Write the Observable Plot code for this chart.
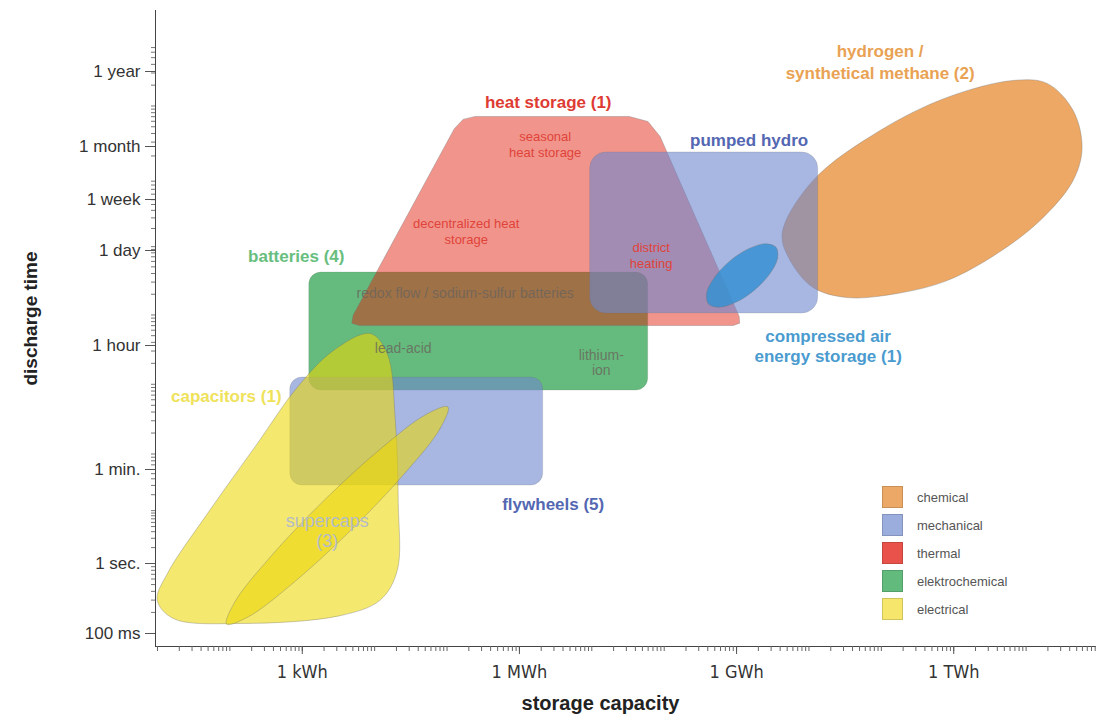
<!DOCTYPE html>
<html><head><meta charset="utf-8">
<script src="https://cdn.jsdelivr.net/npm/d3@7"></script>
<script src="https://cdn.jsdelivr.net/npm/@observablehq/plot@0.6"></script>
<style>
body{margin:0;background:#fff;font-family:"Liberation Sans",Arial,sans-serif;}
#wrap{position:relative;width:1109px;height:716px;}
#legend{position:absolute;left:882px;top:483px;}
.row{display:flex;align-items:center;height:28px;}
.sw{width:21px;height:22px;box-sizing:border-box;border:1px solid rgba(0,0,0,0.15);margin-right:14px;}
.lab{font-size:13px;color:#555;}
</style></head><body><div id="wrap"><div id="legend"></div></div>
<script>
// ---- axis ticks ----
const xTickValues = [1, 1e3, 1e6, 1e9];
const xTickLabels = ["1 kWh", "1 MWh", "1 GWh", "1 TWh"];
const yTickValues = [0.1, 1, 60, 3600, 86400, 604800, 2592000, 31536000];
const yTickLabels = ["100 ms", "1 sec.", "1 min.", "1 hour", "1 day", "1 week", "1 month", "1 year"];

// ---- legend categories ----
const categories = ["chemical", "mechanical", "thermal", "elektrochemical", "electrical"];

// ---- rectangular technology ranges (kWh, seconds) ----
const rectTechs = ["batteries", "flywheels", "pumped hydro"];
const rectCategory = ["elektrochemical", "mechanical", "mechanical"];
const rectCapMin = [1.25, 0.683, 9500];
const rectCapMax = [60100, 2130, 1.34e7];
const rectTimeMin = [815, 29.9, 10500];
const rectTimeMax = [41300, 1250, 2.2e6];

// ---- outlines [kWh, seconds] ----
const heatStorageOutline = [[245,7.05e6],[32860,7.05e6],[59560,5.97e6],[87770,3.61e6],[1.086e6,9536],[1.104e6,7590],[8.97e5,7023],[6.13,7023],[4.83,7590],[5.05,9945],[126,4.69e6],[166,6.37e6]];
const hydrogenOutline = [[4.26e6,1.65e5],[5.5e6,61800],[1.14e7,25100],[3.37e7,17900],[1.65e8,20500],[8.11e8,31600],[3.97e9,78000],[1.56e10,2.71e5],[4.46e10,1.02e6],[5.93e10,2.52e6],[4.46e10,8.61e6],[1.95e10,2.12e7],[6.61e9,2.34e7],[8.11e8,1.33e7],[9.62e7,4.42e6],[1.14e7,1.02e6]];
const compressedAirOutline = [[3.51e6,97500],[3.68e6,66200],[2.86e6,39200],[1.76e6,22950],[9.75e5,15260],[5.71e5,12950],[4.07e5,14550],[3.87e5,21100],[5.0e5,35680],[8.11e5,60950],[1.47e6,92500],[2.5e6,111400]];
const capacitorsOutline = [[8.7,5370],[14.9,2760],[19.3,303],[21.2,13.6],[20.5,0.79],[11.9,0.3],[3.35,0.18],[0.139,0.139],[0.0165,0.164],[0.0099,0.3],[0.0137,0.72],[0.049,8.8],[0.24,142],[0.85,900],[2.7,3050]];
const supercapsOutline = [[103,474],[80,231],[25.9,50.4],[4.75,4.34],[0.77,0.54],[0.181,0.174],[0.090,0.136],[0.116,0.278],[0.357,1.3],[1.95,15.1],[12,118],[51.3,370]];

// ---- annotations ----
const labelTexts = ["heat storage (1)", "seasonal\nheat storage", "decentralized heat\nstorage", "district\nheating", "pumped hydro", "hydrogen /\nsynthetical methane (2)", "batteries (4)", "redox flow / sodium-sulfur batteries", "lead-acid", "lithium-\nion", "capacitors (1)", "flywheels (5)", "supercaps\n(3)", "compressed air\nenergy storage (1)"];
const labelCapacity = [2500, 2270, 184, 66100, 1.49e6, 9.62e7, 0.826, 178, 24.8, 13500, 0.0892, 2930, 2.21, 1.84e7];
const labelTime = [1.2e7, 2.86e6, 1.85e5, 75500, 3.39e6, 4.55e7, 75500, 20500, 3260, 2050, 713, 14.3, 4.21, 3600];
const labelKind = ["thermalT", "thermalN", "thermalN", "thermalN", "mechT", "chemT", "elecchemT", "note", "note", "note", "elecT", "mechT", "superN", "caesT"];

// ---- styles ----
const legendColors = {chemical: "#EBA866", mechanical: "#9AADDC", thermal: "#E8524B", elektrochemical: "#63BA7D", electrical: "#F6E66C"};
const kindStyle = {
  thermalT: {fill: "#DE3B33", fontSize: 17, fontWeight: "bold", lineHeight: 1.3},
  thermalN: {fill: "#E0433A", fontSize: 13, fontWeight: "normal", lineHeight: 1.25},
  mechT: {fill: "#5467B2", fontSize: 17, fontWeight: "bold", lineHeight: 1.3},
  chemT: {fill: "#E9A253", fontSize: 17, fontWeight: "bold", lineHeight: 1.3},
  elecchemT: {fill: "#67BE7E", fontSize: 17, fontWeight: "bold", lineHeight: 1.3},
  note: {fill: "#6a645c", fontSize: 14, fontWeight: "normal", lineHeight: 1.1, fillOpacity: 0.8},
  elecT: {fill: "#EFE25A", fontSize: 17, fontWeight: "bold", lineHeight: 1.3},
  superN: {fill: "#B3BBC8", fontSize: 18, fontWeight: "normal", lineHeight: 1.15},
  caesT: {fill: "#4A9BCF", fontSize: 17, fontWeight: "bold", lineHeight: 1.15}
};

const rects = rectTechs.map((t, i) => ({tech: t, cat: rectCategory[i], x1: rectCapMin[i], x2: rectCapMax[i], y1: rectTimeMin[i], y2: rectTimeMax[i]}));
const labels = labelTexts.map((t, i) => ({text: t, x: labelCapacity[i], y: labelTime[i], kind: labelKind[i]}));

const xMinor = [];
for (let d = -2; d <= 10; d++) for (let k = 1; k <= 9; k++) { const v = k * 10 ** d; if (v <= 1.01e11) xMinor.push(v); }
const yMinor = [];
for (let d = -1; d <= 7; d++) for (let k = 1; k <= 9; k++) { const v = k * 10 ** d; if (v < 8e7) yMinor.push(v); }

const FONT = "Liberation Sans, Arial, sans-serif";
const outlineStroke = {stroke: "#6f6f6f", strokeOpacity: 0.35, strokeWidth: 1};
const shape = (pts, fill, fillOpacity, curve = "catmull-rom-closed") => Plot.line(pts, {x: d => d[0], y: d => d[1], curve, fill, fillOpacity, ...outlineStroke});
const rect = (tech, fill, fillOpacity, rx) => Plot.rect(rects.filter(d => d.tech === tech), {x1: "x1", x2: "x2", y1: "y1", y2: "y2", fill, fillOpacity, rx, ...outlineStroke, strokeOpacity: 0.2});

const textMarks = Object.keys(kindStyle).map(k => Plot.text(labels.filter(d => d.kind === k), {x: "x", y: "y", text: "text", fontFamily: FONT, ...kindStyle[k]}));

const chart = Plot.plot({
  width: 1109, height: 716,
  marginLeft: 155, marginRight: 14, marginTop: 10, marginBottom: 70,
  style: {fontFamily: FONT, background: "white", overflow: "visible"},
  x: {type: "log", domain: [0.01, 1e11], range: [157, 1098]},
  y: {type: "log", domain: yTickValues, range: [633, 563, 469, 345, 250, 199, 146, 71]},
  marks: [
    rect("batteries", "rgb(101,187,125)", 1, 12),
    shape(hydrogenOutline, "rgb(236,168,100)", 1),
    shape(heatStorageOutline, "rgb(225,30,11)", 0.47, "linear-closed"),
    rect("pumped hydro", "rgb(110,135,205)", 0.6, 16),
    rect("flywheels", "rgb(110,135,205)", 0.6, 12),
    shape(compressedAirOutline, "rgb(55,145,210)", 0.85),
    shape(capacitorsOutline, "rgb(236,215,5)", 0.58),
    shape(supercapsOutline, "rgb(236,215,5)", 0.58),
    ...textMarks,
    Plot.frame({anchor: "left", stroke: "#444"}),
    Plot.frame({anchor: "bottom", stroke: "#444"}),
    Plot.axisX({ticks: xMinor, tickSize: 5, tickFormat: () => "", stroke: "#666", label: null}),
    Plot.axisX({ticks: xTickValues, tickSize: 8, tickFormat: () => "", stroke: "#555", label: null}),
    Plot.text(xTickValues, {x: d => d, frameAnchor: "bottom", dy: 26, lineAnchor: "middle", text: (d, i) => xTickLabels[i], fontSize: 18, fontFamily: "Liberation Sans Narrow, DejaVu Sans Condensed, Liberation Sans, sans-serif", fill: "#333"}),
    Plot.axisY({ticks: yMinor, tickSize: 4, tickFormat: () => "", stroke: "#777", label: null}),
    Plot.axisY({ticks: yTickValues, tickSize: 10, tickFormat: () => "", stroke: "#555", label: null}),
    Plot.text(yTickValues, {y: d => d, frameAnchor: "left", dx: -15, textAnchor: "end", text: (d, i) => yTickLabels[i], fontSize: 17, fill: "#333"}),
    Plot.text(["discharge time"], {frameAnchor: "left", dx: -125, dy: -10, rotate: -90, textAnchor: "middle", text: d => d, fontSize: 19, fontWeight: "bold", fill: "#222"}),
    Plot.text(["storage capacity"], {frameAnchor: "bottom", dx: -25, dy: 57, lineAnchor: "middle", textAnchor: "middle", text: d => d, fontSize: 20, fontWeight: "bold", fill: "#222"})
  ]
});
document.getElementById("wrap").prepend(chart);

const legend = document.getElementById("legend");
for (const c of categories) {
  const row = document.createElement("div"); row.className = "row";
  const sw = document.createElement("div"); sw.className = "sw"; sw.style.background = legendColors[c];
  const lab = document.createElement("span"); lab.className = "lab"; lab.textContent = c;
  row.append(sw, lab); legend.append(row);
}
</script></body></html>
